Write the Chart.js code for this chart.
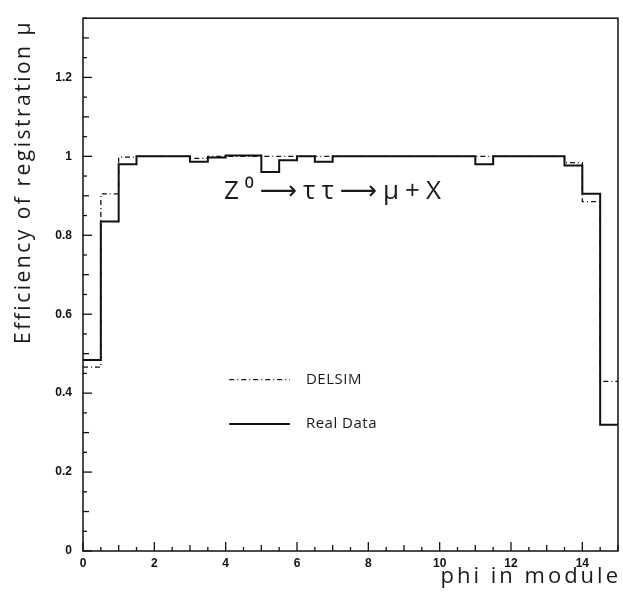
<!DOCTYPE html>
<html>
<head>
<meta charset="utf-8">
<script src="https://cdn.jsdelivr.net/npm/chart.js@4"></script>
<style>
html, body { margin: 0; padding: 0; background: #fff; }
</style>
</head>
<body>
<canvas id="myChart" width="623" height="597"></canvas>
<script>
// bin edges in phi (module units), 30 bins of 0.5
const phiEdges = [0, 0.5, 1, 1.5, 2, 2.5, 3, 3.5, 4, 4.5, 5, 5.5, 6, 6.5, 7, 7.5,
    8, 8.5, 9, 9.5, 10, 10.5, 11, 11.5, 12, 12.5, 13, 13.5, 14, 14.5, 15];

const realData = [0.484, 0.835, 0.98, 1.0, 1.0, 1.0, 0.986, 0.997, 1.002, 1.002,
    0.96, 0.99, 1.0, 0.986, 1.0, 1.0, 1.0, 1.0, 1.0, 1.0,
    1.0, 1.0, 0.98, 1.0, 1.0, 1.0, 1.0, 0.977, 0.905, 0.32];

const delsimData = [0.466, 0.905, 0.998, 1.0, 1.0, 1.0, 0.995, 1.0, 1.0, 1.0,
    1.0, 1.0, 1.0, 1.0, 1.0, 1.0, 1.0, 1.0, 1.0, 1.0,
    1.0, 1.0, 1.0, 1.0, 1.0, 1.0, 1.0, 0.984, 0.885, 0.43];

const xTickValues = [0, 2, 4, 6, 8, 10, 12, 14];
const yTickValues = [0, 0.2, 0.4, 0.6, 0.8, 1, 1.2];
const yTickLabels = ["0", "0.2", "0.4", "0.6", "0.8", "1", "1.2"];

const seriesNames = ["DELSIM", "Real Data"];

// histogram -> step points (last value repeated at the right edge)
function toSteps(values) {
    return phiEdges.map((x, i) => ({ x: x, y: values[Math.min(i, values.length - 1)] }));
}

const INK = "#111";
const textFont = '"Open Sans", "DejaVu Sans", sans-serif';

const framePlugin = {
    id: "frame",
    afterDraw(chart) {
        const ctx = chart.ctx;
        const a = chart.chartArea;
        const xs = chart.scales.x;
        const ys = chart.scales.y;
        ctx.save();
        ctx.strokeStyle = INK;
        ctx.lineWidth = 1.5;
        ctx.strokeRect(a.left, a.top, a.right - a.left, a.bottom - a.top);

        // inward ticks on the left axis, every 0.05
        ctx.lineWidth = 1.3;
        for (let i = 0; i <= 27; i++) {
            const y = ys.getPixelForValue(i * 0.05);
            const len = i % 4 === 0 ? 9 : (i % 2 === 0 ? 6 : 4);
            ctx.beginPath();
            ctx.moveTo(a.left, y);
            ctx.lineTo(a.left + len, y);
            ctx.stroke();
        }
        // inward ticks on the bottom axis, every 0.5
        for (let i = 0; i <= 30; i++) {
            const x = xs.getPixelForValue(i * 0.5);
            const len = i % 4 === 0 ? 9 : (i % 2 === 0 ? 6 : 4);
            ctx.beginPath();
            ctx.moveTo(x, a.bottom);
            ctx.lineTo(x, a.bottom - len);
            ctx.stroke();
        }

        // axis titles
        ctx.fillStyle = "#1a1a1a";
        ctx.font = "22px " + textFont;
        ctx.letterSpacing = "3px";
        ctx.textAlign = "right";
        ctx.textBaseline = "alphabetic";
        ctx.fillText("phi in module", a.right + 3, 583);

        ctx.font = "21px " + textFont;
        ctx.letterSpacing = "2.5px";
        ctx.save();
        ctx.translate(30, 182);
        ctx.rotate(-Math.PI / 2);
        ctx.textAlign = "center";
        ctx.fillText("Efficiency of registration \u03bc", 0, 0);
        ctx.restore();

        // reaction label inside the frame
        ctx.letterSpacing = "6px";
        ctx.font = "26px " + textFont;
        ctx.textAlign = "left";
        ctx.textBaseline = "middle";
        ctx.fillText("Z\u2070\u27f6\u03c4\u03c4\u27f6\u03bc+X", xs.getPixelForValue(3.95), ys.getPixelForValue(0.91));

        // legend inside the frame
        ctx.font = "15px " + textFont;
        ctx.letterSpacing = "0.5px";
        const legendY = [0.434, 0.322];
        chart.data.datasets.forEach((ds, i) => {
            const y = ys.getPixelForValue(legendY[i]);
            ctx.beginPath();
            ctx.setLineDash(ds.borderDash || []);
            ctx.lineWidth = ds.borderWidth;
            ctx.moveTo(xs.getPixelForValue(4.1), y);
            ctx.lineTo(xs.getPixelForValue(5.8), y);
            ctx.stroke();
            ctx.setLineDash([]);
            ctx.fillText(ds.label, xs.getPixelForValue(6.25), y);
        });
        ctx.restore();
    },
};

const ctx = document.getElementById("myChart").getContext("2d");
const chart = new Chart(ctx, {
    type: "line",
    data: {
        datasets: [
            {
                label: seriesNames[0],
                data: toSteps(delsimData),
                borderColor: INK,
                borderWidth: 1.3,
                borderDash: [5, 3, 1, 3],
                stepped: "before",
                pointRadius: 0,
                fill: false,
            },
            {
                label: seriesNames[1],
                data: toSteps(realData),
                borderColor: INK,
                borderWidth: 2,
                stepped: "before",
                pointRadius: 0,
                fill: false,
            },
        ],
    },
    options: {
        responsive: false,
        devicePixelRatio: 1,
        animation: false,
        parsing: false,
        layout: { padding: { top: 12, right: 5, left: 0, bottom: 0 } },
        scales: {
            x: {
                type: "linear",
                min: 0,
                max: 15,
                grid: { display: false, drawTicks: false },
                border: { display: false },
                afterFit: (s) => { s.height = 46; },
                afterBuildTicks: (s) => { s.ticks = xTickValues.map((v) => ({ value: v })); },
                ticks: {
                    padding: 5,
                    color: INK,
                    font: { family: "Liberation Sans", size: 12, weight: "bold" },
                },
            },
            y: {
                type: "linear",
                min: 0,
                max: 1.35,
                grid: { display: false, drawTicks: false },
                border: { display: false },
                afterFit: (s) => { s.width = 83; },
                afterBuildTicks: (s) => { s.ticks = yTickValues.map((v) => ({ value: v })); },
                ticks: {
                    padding: 11,
                    color: INK,
                    font: { family: "Liberation Sans", size: 12, weight: "bold" },
                    callback: function (value) {
                        const i = yTickValues.indexOf(value);
                        return i >= 0 ? yTickLabels[i] : "";
                    },
                },
            },
        },
        plugins: {
            legend: { display: false },
            tooltip: { enabled: false },
        },
    },
    plugins: [framePlugin],
});
</script>
</body>
</html>
